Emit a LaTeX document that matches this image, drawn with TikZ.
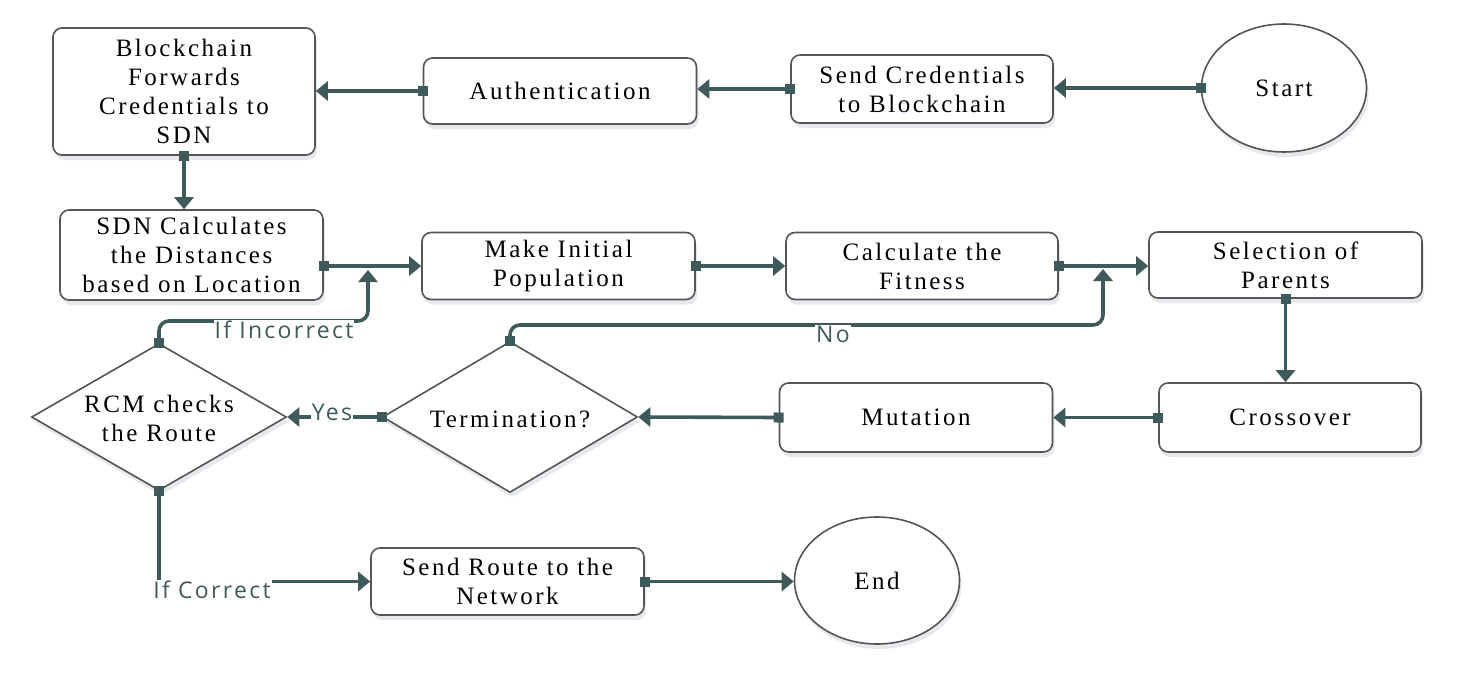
\documentclass[tikz,border=0pt]{standalone}
\usepackage{fontspec}
\setmainfont{Liberation Serif}[LetterSpace=10]
\newfontfamily\lblfont{Open Sans}[LetterSpace=10]
\usetikzlibrary{arrows.meta,shapes.geometric,shadows}
\definecolor{conn}{HTML}{3E5A5A}
\definecolor{bord}{HTML}{555555}
\definecolor{shad}{HTML}{8A9AB0}
\begin{document}
\begin{tikzpicture}[x=1pt,y=-1pt,
  shd/.style={drop shadow={opacity=0.22, shadow xshift=2pt, shadow yshift=-5pt, fill=shad}},
  box/.style={draw=bord, line width=1.6pt, rounded corners=9pt, fill=white, align=center,
    font=\fontsize{25}{29}\selectfont, inner sep=0pt, shd},
  oval/.style={draw=bord, line width=1.6pt, ellipse, fill=white, inner sep=0pt,
    font=\fontsize{25}{29}\selectfont, shd},
  dia/.style={draw=bord, line width=1.6pt, diamond, fill=white, inner sep=0pt, shd},
  dtext/.style={align=center, font=\fontsize{25}{29}\selectfont, inner sep=0pt},
  conn/.style={draw=conn, line width=3.6pt,
    {Square[length=10pt,width=10pt]}-{Triangle[length=12pt,width=19pt]}, shorten <=-5pt},
  lbl/.style={fill=white, text=conn, font=\lblfont\fontsize{23}{26}\selectfont, inner sep=1pt}
]
\useasboundingbox (0,0) rectangle (1469,680);

% nodes
\node[box, minimum width=262pt, minimum height=127pt] (bc) at (184,91.5)
  {Blockchain\\Forwards\\Credentials to\\SDN};
\node[box, minimum width=273pt, minimum height=66pt] (auth) at (560,91) {Authentication};
\node[box, minimum width=262pt, minimum height=68pt] (sc) at (922,89) {Send Credentials\\to Blockchain};
\node[oval, minimum width=165pt, minimum height=128pt] (start) at (1284,88) {Start};

\node[box, minimum width=263pt, minimum height=90pt] (sdn) at (191.5,255)
  {SDN Calculates\\the Distances\\based on Location};
\node[box, minimum width=273pt, minimum height=67pt] (mip) at (558.5,266) {Make Initial\\Population};
\node[box, minimum width=272pt, minimum height=67pt] (fit) at (922,266) {Calculate the\\Fitness};
\node[box, minimum width=273pt, minimum height=66pt] (sel) at (1285.5,265) {Selection of\\Parents};

\node[box, minimum width=262pt, minimum height=69pt] (cross) at (1290,417.5) {Crossover};
\node[box, minimum width=273pt, minimum height=69pt] (mut) at (916,417.5) {Mutation};
\node[dia, minimum width=255pt, minimum height=151pt] (term) at (510,417) {};
\node[dtext] (termt) at (510,419) {Termination?};
\node[dia, minimum width=255pt, minimum height=147pt] (rcm) at (159,417) {};
\node[dtext] (rcmt) at (159,418) {RCM checks\\the Route};

\node[box, minimum width=273pt, minimum height=67pt] (sr) at (507.5,581.5) {Send Route to the\\Network};
\node[oval, minimum width=165pt, minimum height=127pt] (end) at (877,580.5) {End};

% connectors
\draw[conn] (start.west) -- (start.west -| sc.east);
\draw[conn] (sc.west) -- (sc.west -| auth.east);
\draw[conn] (auth.west) -- (auth.west -| bc.east);
\draw[conn] (bc.south) -- (bc.south |- sdn.north);
\draw[conn] (mip.west -| sdn.east) -- (mip.west);
\draw[conn] (mip.east) -- (fit.west);
\draw[conn] (fit.east) -- (fit.east -| sel.west);
\draw[conn] (sel.south) -- (sel.south |- cross.north);
\draw[conn] (cross.west) -- (cross.west -| mut.east);
\draw[conn] (mut.west) -- (term.east);
\draw[conn] (term.west) -- (rcm.east);
\node[lbl, anchor=south] (yes) at (332,422) {Yes};

\coordinate (noend) at (1103,269);
\coordinate (incend) at (368,270);
\draw[conn, rounded corners=10pt] (term.north) |- (1103,325) -- (noend);
\node[lbl] (no) at (833,334) {No};
\draw[conn, rounded corners=10pt] (rcm.north) |- (368,321) -- (incend);
\node[lbl] (inc) at (284,330) {If Incorrect};
\draw[conn, rounded corners=0pt] (rcm.south) |- (sr.west);
\node[lbl] (cor) at (212,590) {If Correct};
\draw[conn] (sr.east) -- (sr.east -| end.west);
\end{tikzpicture}
\end{document}
